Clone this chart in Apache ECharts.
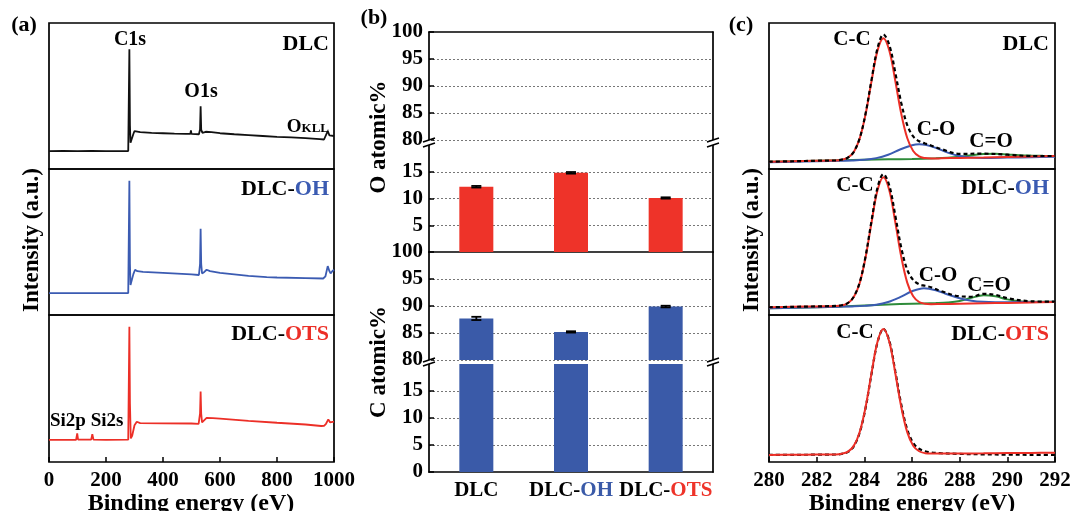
<!DOCTYPE html>
<html><head><meta charset="utf-8">
<script src="https://cdn.jsdelivr.net/npm/echarts@6/dist/echarts.min.js"></script>
<style>html,body{margin:0;padding:0;background:#fff}#c{width:1072px;height:511px}</style>
</head><body><div id="c"></div><script>
// ---------- DATA ----------
// (a) survey spectra: [binding energy (eV), intensity (a.u., 0-100 within panel)]
const surveyDLC = [[0,12.3],[50,12.4],[100,12.3],[150,12.4],[200,12.3],[250,12.3],[278,12.3],[282,82],[284,30],[286,18],[290,18.5],[296,24],[300,26],[306,25.5],[320,25.2],[360,24.8],[400,24.5],[440,24.2],[442,25],[444,24.2],[480,24],[496,24],[498,26.5],[500,24],[526,23.8],[530,27],[532,43],[534,27],[538,24.8],[550,25.5],[570,25.2],[600,24.5],[650,23.8],[700,23.2],[750,22.6],[800,22],[850,21.6],[900,21.2],[950,20.5],[965,20.2],[972,21.5],[978,26],[984,23],[990,22.5],[1000,22.6]];
const surveyOH = [[0,15],[100,15],[200,15],[278,15],[282,92],[284,35],[286,20.5],[290,21],[296,28],[302,31],[310,30],[330,29.5],[400,28.8],[450,28.3],[500,27.8],[526,27.4],[530,35],[532,59],[534,35],[537,28.5],[545,29.5],[553,31],[565,30],[600,28.8],[650,27.8],[700,26.8],[764,26],[800,25.7],[900,25.3],[962,25],[970,26.5],[978,33.5],[984,30],[988,28.5],[994,30],[1000,31]];
const surveyOTS = [[0,15],[50,15],[95,15],[99,19.5],[102,15.2],[148,15.2],[152,19],[156,15.2],[200,15],[278,15.2],[282,92],[284,40],[287,16],[292,18],[300,25],[308,27.4],[320,26.5],[400,26.3],[500,26.2],[525,26],[530,33],[532,48],[534,33],[537,27],[545,28.5],[553,30],[575,29.8],[600,29.5],[700,28],[800,26.7],[900,25.5],[955,24.5],[965,24.6],[972,26],[980,29],[986,27],[1000,27.5]];
const surveyTicks = [0,200,400,600,800,1000];

// (b) atomic percentages
const categories = ['DLC','DLC-OH','DLC-OTS'];
const oAtomic = [12.2,14.8,10.1];
const oErr = [0.15,0.15,0.12];
const cAtomic = [87.7,85.2,89.9];
const cErr = [0.3,0.12,0.15];

// (c) C1s high-resolution fits: [eV, intensity]
const dlcCC = [[280,5.0],[281,5.3],[282,5.65],[282.5,5.8],[282.8,5.9],[283.05,6.4],[283.3,7.7],[283.55,11.5],[283.8,20.6],[284.05,37.3],[284.3,60.0],[284.55,80.9],[284.8,89.6],[285.05,81.0],[285.3,60.3],[285.55,37.8],[285.8,21.2],[286.05,12.3],[286.3,8.6],[286.55,7.5],[286.8,7.2],[287.2,7.3],[288,7.6],[289,7.9],[290,8.25],[291,8.6],[292,8.9]];
const dlcCO = [[280,4.6],[281,4.9],[282,5.25],[283,5.6],[283.5,5.8],[284,6.3],[284.5,7.45],[285,9.8],[285.5,13.35],[286,16.3],[286.3,17.0],[286.6,16.5],[287,14.5],[287.5,11.25],[288,8.85],[288.5,7.8],[289,7.55],[290,7.8],[291,8.1],[292,8.4]];
const dlcCdO = [[280,5.0],[281,5.3],[282,5.6],[283,5.95],[284,6.3],[285,6.6],[286,6.9],[287,7.3],[287.5,7.7],[288,8.4],[288.5,9.4],[289,10.2],[289.5,10.4],[290,10.0],[290.5,9.5],[291,9.2],[291.5,9.0],[292,8.9]];
const dlcEnv = [[280,5.0],[281,5.3],[282,5.65],[282.5,5.8],[282.8,5.9],[283.05,6.4],[283.3,7.7],[283.55,11.6],[283.8,20.8],[284.05,37.8],[284.3,60.9],[284.55,82.5],[284.8,92.2],[285.05,84.9],[285.3,65.9],[285.55,45.2],[285.8,30.1],[286.05,22.3],[286.3,19.0],[286.55,17.5],[286.8,16.1],[287.2,13.8],[288,10.4],[289,10.5],[290,9.8],[291,8.9],[292,8.9]];

const ohCC = [[280,5.3],[281,5.6],[282,5.9],[282.5,6.05],[282.8,6.15],[283.05,6.6],[283.3,8.0],[283.55,12.1],[283.8,21.6],[284.05,39.3],[284.3,63.2],[284.55,85.2],[284.8,94.3],[285.05,85.3],[285.3,63.5],[285.55,39.8],[285.8,22.2],[286.05,12.8],[286.3,8.9],[286.55,7.7],[286.8,7.4],[287.2,7.5],[288,7.7],[289,8.0],[290,8.3],[291,8.6],[292,8.9]];
const ohCO = [[280,4.6],[281,5.0],[282,5.35],[283,5.7],[283.5,5.9],[284,6.25],[284.5,7.0],[285,8.9],[285.5,12.2],[286,16.25],[286.5,18.4],[287,17.0],[287.5,14.0],[288,11.5],[288.5,9.8],[289,9.0],[289.5,8.8],[290,8.8],[291,8.9],[292,9.1]];
const ohCdO = [[280,4.6],[281,4.95],[282,5.3],[283,5.8],[284,6.5],[285,7.2],[286,7.7],[287,8.2],[287.5,8.6],[288,9.6],[288.5,11.8],[289,13.5],[289.5,12.8],[290,10.7],[290.5,9.5],[291,9.1],[292,9.1]];
const ohEnv = [[280,5.3],[281,5.6],[282,5.9],[282.5,6.05],[282.8,6.2],[283.05,6.7],[283.3,8.1],[283.55,12.3],[283.8,22.0],[284.05,40.0],[284.3,64.3],[284.55,87.0],[284.8,96.5],[285.05,88.5],[285.3,68.0],[285.55,46.0],[285.8,31.0],[286.05,24.0],[286.3,21.0],[286.55,20.0],[286.8,19.0],[287.2,16.5],[288,12.8],[288.5,12.5],[289,14.5],[289.5,13.8],[290,11.5],[291,9.4],[292,9.1]];

const otsCC = [[280,4.8],[281,4.9],[282,5.05],[282.5,5.1],[282.8,5.15],[283.05,5.6],[283.3,6.9],[283.55,10.8],[283.8,20.1],[284.05,37.1],[284.3,60.3],[284.55,81.6],[284.8,90.4],[285.05,81.6],[285.3,60.4],[285.55,37.3],[285.8,20.3],[286.05,11.1],[286.3,7.3],[286.55,6.0],[286.8,5.7],[287.2,5.75],[288,5.8],[289,5.9],[290,6.05],[291,6.2],[292,6.3]];
const otsEnv = [[280,4.8],[281,4.85],[282,5.0],[282.5,5.05],[282.8,5.1],[283.05,5.5],[283.3,6.7],[283.55,10.5],[283.8,19.7],[284.05,36.6],[284.3,59.8],[284.55,81.2],[284.8,90.6],[285.05,82.3],[285.3,61.6],[285.55,38.9],[285.8,22.2],[286.05,12.9],[286.3,9.0],[286.55,7.3],[286.8,6.5],[287.2,6.0],[288,5.5],[289,5.2],[290,5.0],[291,4.9],[292,4.85]];

// ---------- STYLE / LAYOUT ----------
const F = '"Liberation Serif","Times New Roman",serif';
const BLACK = '#111';
const RED = '#ec2f27', BLUE = '#3b5bb2', GREEN = '#2e8b3a';
const BAR_RED = '#ee3329', BAR_BLUE = '#3a5aa8';
const A_LEFT = 49, A_W = 285, C_LEFT = 769, C_W = 286;
const ROWS = [[23,146],[169,146],[315,147]];
const B_LEFT = 429, B_W = 284;
const B_ROWS = [[32,108],[145,107],[252,108],[364,108]];

const grids = [], xAxes = [], yAxes = [], series = [];
const frameGrid = (left, top, width, height) => ({left, top, width, height, show:true, borderColor:'#000', borderWidth:1.7, backgroundColor:'transparent', outerBoundsMode:'none', containLabel:false});
const tickLabel = {color:'#000', fontFamily:F, fontWeight:'bold', fontSize:21, formatter:(v)=>String(v)};

// (a)
ROWS.forEach((r,i)=>{
  grids.push(frameGrid(A_LEFT, r[0], A_W, r[1]));
  const last = i===2;
  xAxes.push({gridIndex:grids.length-1, type:'value', min:surveyTicks[0], max:surveyTicks[surveyTicks.length-1], interval:surveyTicks[1]-surveyTicks[0],
    axisLine:{show:false}, splitLine:{show:false},
    axisTick: last ? {show:true, inside:true, length:5, lineStyle:{color:'#000', width:1.5}} : {show:false},
    axisLabel: last ? Object.assign({margin:8}, tickLabel) : {show:false}});
  yAxes.push({gridIndex:grids.length-1, type:'value', min:0, max:100, show:false});
});
// (b)
const bRanges = [[80,100],[0,20],[80,100],[0,20]];
B_ROWS.forEach((r,i)=>{
  grids.push({left:B_LEFT, top:r[0], width:B_W, height:r[1], show:false, outerBoundsMode:'none', containLabel:false});
});
const catRich = {k:{color:'#000',fontFamily:F,fontWeight:'bold',fontSize:21}, b:{color:BAR_BLUE,fontFamily:F,fontWeight:'bold',fontSize:21}, r:{color:BAR_RED,fontFamily:F,fontWeight:'bold',fontSize:21}};
B_ROWS.forEach((r,i)=>{
  const gi = 3+i;
  const pos = i===0 ? 'top' : 'bottom';
  xAxes.push({gridIndex:gi, type:'category', data:categories, position:pos,
    axisLine:{show:i!==2, onZero:false, lineStyle:{color:'#000', width:1.7}},
    axisTick:{show:false}, splitLine:{show:false},
    axisLabel: i===3 ? {interval:0, hideOverlap:false, margin:8, fontFamily:F, fontWeight:'bold', fontSize:21, color:'#000',
      formatter:(v)=> v==='DLC' ? '{k|DLC}' : (v==='DLC-OH' ? '{k|DLC-}{b|OH}' : '{k|DLC-}{r|OTS}'),
      rich:catRich} : {show:false}});
});
B_ROWS.forEach((r,i)=>{
  const gi = 3+i, rg = bRanges[i], lower = rg[0]===0;
  yAxes.push({gridIndex:gi, type:'value', position:'left', min:rg[0], max:rg[1], interval:5,
    axisLine:{show:true, onZero:false, lineStyle:{color:'#000', width:1.7}},
    axisTick:{show:true, inside:true, length:5, lineStyle:{color:'#000', width:1.5}},
    axisLabel:Object.assign({margin:6, showMinLabel: !(i===1), showMaxLabel: !lower}, tickLabel),
    splitLine:{show:true, showMinLine: !lower, showMaxLine:false, lineStyle:{color:'#777', type:[2,2], width:1}}});
});
B_ROWS.forEach((r,i)=>{
  const gi = 3+i, rg = bRanges[i];
  yAxes.push({gridIndex:gi, type:'value', position:'right', min:rg[0], max:rg[1], interval:5,
    axisLine:{show:true, onZero:false, lineStyle:{color:'#000', width:1.7}},
    axisTick:{show:false}, axisLabel:{show:false}, splitLine:{show:false}});
});
// (c)
ROWS.forEach((r,i)=>{
  grids.push(frameGrid(C_LEFT, r[0], C_W, r[1]));
  const last = i===2;
  xAxes.push({gridIndex:grids.length-1, type:'value', min:280, max:292, interval:2,
    axisLine:{show:false}, splitLine:{show:false},
    axisTick: last ? {show:true, inside:true, length:5, lineStyle:{color:'#000', width:1.5}} : {show:false},
    axisLabel: last ? Object.assign({margin:8}, tickLabel) : {show:false}});
});
ROWS.forEach((r,i)=>{
  yAxes.push({gridIndex:7+i, type:'value', min:0, max:100, show:false});
});

// series (a)
[[surveyDLC,BLACK],[surveyOH,BLUE],[surveyOTS,RED]].forEach((s,i)=>{
  series.push({type:'line', xAxisIndex:i, yAxisIndex:i, data:s[0], showSymbol:false, symbol:'none',
    lineStyle:{color:s[1], width:1.8}, silent:true});
});
// series (b)
series.push({type:'bar', xAxisIndex:4, yAxisIndex:4, data:oAtomic, barWidth:34, clip:true, itemStyle:{color:BAR_RED}});
series.push({type:'bar', xAxisIndex:5, yAxisIndex:5, data:cAtomic, barWidth:34, clip:true, itemStyle:{color:BAR_BLUE}});
series.push({type:'bar', xAxisIndex:6, yAxisIndex:6, data:cAtomic, barWidth:34, clip:true, itemStyle:{color:BAR_BLUE}});
function errRender(params, api){
  const i = api.value(0), v = api.value(1), e = api.value(2);
  const hi = api.coord([i, v+e]), lo = api.coord([i, v-e]);
  const w = 5, st = {stroke:'#000', lineWidth:1.8};
  return {type:'group', children:[
    {type:'line', shape:{x1:hi[0], y1:hi[1], x2:lo[0], y2:lo[1]}, style:st},
    {type:'line', shape:{x1:hi[0]-w, y1:hi[1], x2:hi[0]+w, y2:hi[1]}, style:st},
    {type:'line', shape:{x1:lo[0]-w, y1:lo[1], x2:lo[0]+w, y2:lo[1]}, style:st}]};
}
series.push({type:'custom', xAxisIndex:4, yAxisIndex:4, renderItem:errRender, data:categories.map((c,i)=>[i,oAtomic[i],oErr[i]]), z:5});
series.push({type:'custom', xAxisIndex:5, yAxisIndex:5, renderItem:errRender, data:categories.map((c,i)=>[i,cAtomic[i],cErr[i]]), z:5});
// series (c)
const fitLine = (xi, yi, data, color, dashed) => ({type:'line', xAxisIndex:xi, yAxisIndex:yi, data, showSymbol:false, symbol:'none', smooth:0.35,
  lineStyle:{color, width:dashed?2.2:2, type: dashed ? [4,3] : 'solid'}, silent:true});
series.push(fitLine(7,11,dlcCdO,GREEN), fitLine(7,11,dlcCO,BLUE), fitLine(7,11,dlcCC,RED), fitLine(7,11,dlcEnv,'#000',true));
series.push(fitLine(8,12,ohCdO,GREEN), fitLine(8,12,ohCO,BLUE), fitLine(8,12,ohCC,RED), fitLine(8,12,ohEnv,'#000',true));
series.push(fitLine(9,13,otsEnv,'#000',true), fitLine(9,13,otsCC,RED));

// ---------- TEXT / DECORATION ----------
const g = [];
const txt = (x, y, text, size, align, rot, rich) => {
  const el = {type:'text', x, y, z:100, silent:true, rotation: rot||0,
    style:{text, x:0, y:0, fill:'#000', font:'bold '+size+'px '+F, align:align||'center', verticalAlign:'middle'}};
  if (rich) el.style.rich = rich;
  g.push(el);
};
const rc = (size) => ({k:{fill:'#000', font:'bold '+size+'px '+F}, b:{fill:BLUE, font:'bold '+size+'px '+F}, r:{fill:RED, font:'bold '+size+'px '+F}});
txt(24,25,'(a)',22); txt(374,18,'(b)',22); txt(741,25,'(c)',22);
// (a)
txt(130,40,'C1s',20); txt(201,92,'O1s',20);
txt(329,127,'{o|O}{s|KLL}',19,'right',0,{o:{fill:'#000',font:'bold 19px '+F}, s:{fill:'#000',font:'bold 13px '+F, padding:[4,0,0,0]}});
txt(329,44,'DLC',22,'right');
txt(329,189,'{k|DLC-}{b|OH}',22,'right',0,rc(22));
txt(329,334,'{k|DLC-}{r|OTS}',22,'right',0,rc(22));
txt(50,421,'Si2p Si2s',19,'left');
txt(32,240,'Intensity (a.u.)',23,'center',Math.PI/2);
txt(191,504,'Binding energy (eV)',24);
// (b)
txt(379,137,'O atomic%',23,'center',Math.PI/2);
txt(379,362,'C atomic%',23,'center',Math.PI/2);
// (c)
txt(852,40,'C-C',21); txt(936,130,'C-O',21); txt(991,142,'C=O',21);
txt(1049,44,'DLC',22,'right');
txt(855,186,'C-C',21); txt(938,276,'C-O',21); txt(989,286,'C=O',21);
txt(1049,188,'{k|DLC-}{b|OH}',22,'right',0,rc(22));
txt(855,333,'C-C',21);
txt(1049,334,'{k|DLC-}{r|OTS}',22,'right',0,rc(22));
txt(752,240,'Intensity (a.u.)',23,'center',Math.PI/2);
txt(912,504,'Binding energy (eV)',24);
// axis break marks in (b)
[[B_ROWS[0][0]+B_ROWS[0][1], B_ROWS[1][0]], [B_ROWS[2][0]+B_ROWS[2][1], B_ROWS[3][0]]].forEach(([y1,y2])=>{
  [B_LEFT, B_LEFT+B_W].forEach(x=>{
    g.push({type:'rect', z:99, silent:true, shape:{x:x-2, y:y1, width:4, height:y2-y1}, style:{fill:'#fff'}});
    g.push({type:'line', z:100, silent:true, shape:{x1:x-6, y1:y1+2, x2:x+6, y2:y1-2}, style:{stroke:'#000', lineWidth:1.4}});
    g.push({type:'line', z:100, silent:true, shape:{x1:x-6, y1:y2+2, x2:x+6, y2:y2-2}, style:{stroke:'#000', lineWidth:1.4}});
  });
});

const chart = echarts.init(document.getElementById('c'), null, {renderer:'canvas'});
chart.setOption({animation:false, backgroundColor:'#fff', textStyle:{fontFamily:F},
  grid:grids, xAxis:xAxes, yAxis:yAxes, series, graphic:{elements:g}});
</script></body></html>
